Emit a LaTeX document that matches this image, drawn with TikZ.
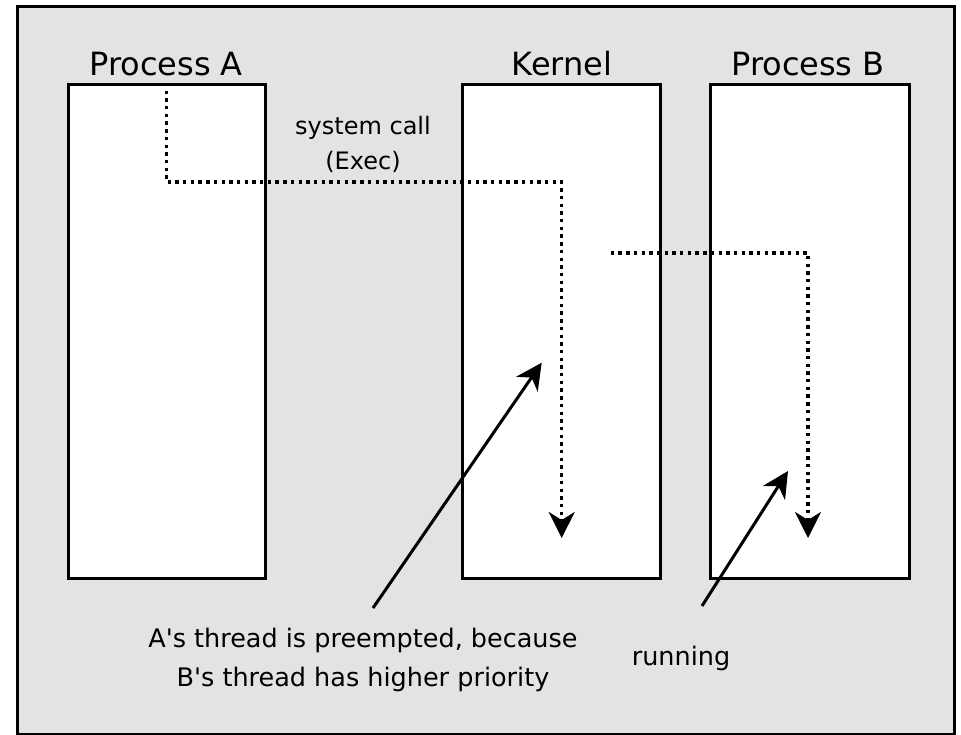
\documentclass[tikz,border=0pt]{standalone}
\usepackage{fontspec}
\setmainfont{DejaVu Sans}
\usetikzlibrary{arrows.meta}

\definecolor{panelgray}{RGB}{227,227,227}

\begin{document}
\begin{tikzpicture}[x=1pt, y=-1pt,
  tip/.style={-{Stealth[length=26pt, width=26pt, inset=8pt]}},
  procbox/.style={draw=black, fill=white, line width=3pt,
    minimum width=197pt, minimum height=493.5pt, inner sep=0pt},
  boxtitle/.style={font=\fontsize{32}{38}\selectfont, inner sep=0pt, anchor=base},
  note/.style={font=\fontsize{24}{35}\selectfont, inner sep=0pt, align=center, anchor=base},
  caption/.style={font=\fontsize{25.5}{39}\selectfont, inner sep=0pt, align=center, anchor=base},
  flow/.style={tip, line width=3.4pt, dash pattern=on 3.4pt off 4.3pt},
  pointer/.style={tip, line width=3pt}]

  % canvas and framed panel
  \useasboundingbox (0,0) rectangle (961,735);
  \fill[white] (0,0) rectangle (961,735);
  \draw[fill=panelgray, draw=black, line width=3pt] (17.5,7) rectangle (954,734);

  % the three columns
  \node[procbox] (procA)  at (166.5,331.25) {};
  \node[procbox, minimum width=198pt] (kernel) at (561,331.25) {};
  \node[procbox, minimum width=199pt] (procB)  at (809.5,331.25) {};

  \node[boxtitle] (titleA) at (166,76) {Process A};
  \node[boxtitle] (titleK) at (562,76) {Kernel};
  \node[boxtitle] (titleB) at (808,76) {Process B};

  % system call path from process A into the kernel
  \coordinate (sysStart) at (procA.north);
  \coordinate (sysTurn)  at (166.5,182);
  \coordinate (sysIn)    at (561.7,182);
  \coordinate (sysEnd)   at (561.7,538);
  \draw[flow] (sysStart) -- (sysTurn) -- (sysIn) -- (sysEnd);
  % base anchor of a multi-line node sits on its last line
  \node[note] (syscall) at (363,170) {system call\\(Exec)};

  % scheduler hands over to process B
  \coordinate (runStart) at (610.7,253);
  \coordinate (runTurn)  at (808,253);
  \coordinate (runEnd)   at (808,538);
  \draw[flow] (runStart) -- (runTurn) -- (runEnd);

  % annotations
  \node[caption] (preempt) at (363,686)
    {A\textquotesingle s thread is preempted, because\\B\textquotesingle s thread has higher priority};
  \node[caption] (running) at (681,665) {running};

  \coordinate (preemptTail) at (373,608);
  \coordinate (preemptHead) at (541.7,362.7);
  \coordinate (runningTail) at (702,606);
  \coordinate (runningHead) at (788,471);
  \draw[pointer] (preemptTail) -- (preemptHead);
  \draw[pointer] (runningTail) -- (runningHead);
\end{tikzpicture}
\end{document}
